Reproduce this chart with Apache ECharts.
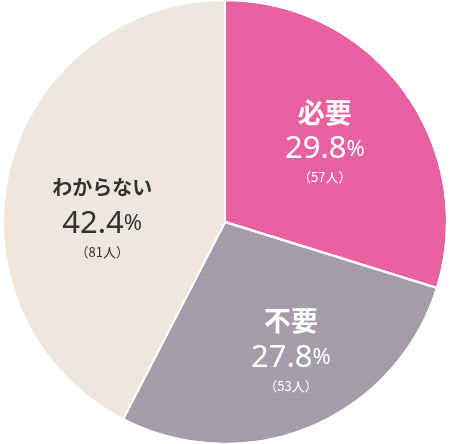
<!DOCTYPE html>
<html><head><meta charset="utf-8">
<script src="https://cdn.jsdelivr.net/npm/echarts@6/dist/echarts.min.js"></script>
<style>html,body{margin:0;background:#fff}#c{width:450px;height:444px}</style>
</head><body><div id="c"></div>
<script>
var names = ['必要', '不要', 'わからない'];
var percents = [29.8, 27.8, 42.4];
var counts = [57, 53, 81];
var colors = ['#e8609f', '#a29da8', '#ede7dd'];
var textColors = ['#fff', '#fff', '#333'];
var offsets = [[8, -14], [22, 22], [-12, 20]];

var dots = { symbol: 'circle', symbolSize: 0.5, dashArrayX: [[1, 0], [1, 0]], dashArrayY: [6, 0], rotation: 0 };

var data = names.map(function (n, i) {
    return {
        name: n, value: percents[i],
        itemStyle: { color: colors[i], decal: i < 2 ? { symbol: 'circle', symbolSize: 0.35, color: 'rgba(255,255,255,0.22)', dashArrayX: [[1, 0], [1, 0]], dashArrayY: [5, 0], symbolKeepAspect: true } : null },
        label: {
            offset: offsets[i],
            formatter: '{t|' + n + '}\n{p|' + percents[i].toFixed(1) + '}{s|%}\n{c|（' + counts[i] + '人）}',
            rich: {
                t: { color: textColors[i], fontSize: i < 2 ? 27 : 20, fontWeight: 'bold', lineHeight: 36, fontFamily: 'Noto Sans CJK JP' },
                p: { color: textColors[i], fontSize: 31, lineHeight: 38, fontFamily: 'Noto Sans' },
                s: { color: textColors[i], fontSize: 22, lineHeight: 38, fontFamily: 'Noto Sans' },
                c: { color: textColors[i], fontSize: 13, lineHeight: 18, fontFamily: 'Noto Sans CJK JP' }
            }
        }
    };
});

var chart = echarts.init(document.getElementById('c'));
chart.setOption({
    animation: false,
    series: [{
        type: 'pie',
        center: [225, 222],
        radius: [0, 222],
        startAngle: 90,
        clockwise: true,
        itemStyle: { borderColor: '#fff', borderWidth: 2 },
        label: { show: true, position: 'inside', align: 'center' },
        labelLine: { show: false },
        data: data
    }]
});
</script></body></html>
